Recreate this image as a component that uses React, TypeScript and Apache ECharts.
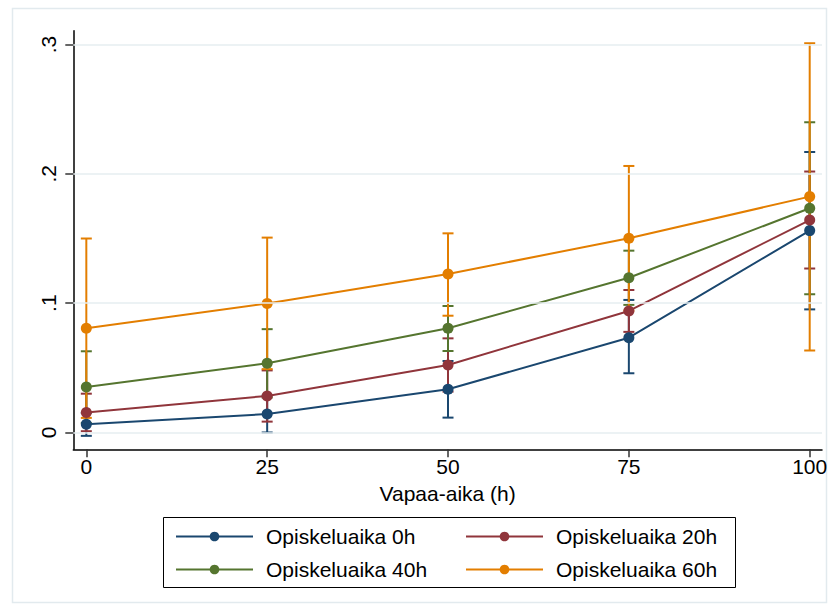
import React, { useEffect, useRef } from "react";
import * as echarts from "echarts";

// Predicted probabilities by free time (h), one group per study-time level
const freeTime = [0, 25, 50, 75, 100];

const seriesNames = [
  "Opiskeluaika 0h",
  "Opiskeluaika 20h",
  "Opiskeluaika 40h",
  "Opiskeluaika 60h",
];

const margin0h = [0.0063, 0.0143, 0.0334, 0.0733, 0.1561];
const lower0h = [-0.0026, 0.0, 0.0115, 0.0458, 0.0952];
const upper0h = [0.0152, 0.0286, 0.0553, 0.1025, 0.2169];

const margin20h = [0.0155, 0.0283, 0.0522, 0.094, 0.1643];
const lower20h = [0.001, 0.0084, 0.0316, 0.0778, 0.1268];
const upper20h = [0.03, 0.048, 0.0728, 0.1102, 0.2018];

const margin40h = [0.0351, 0.0535, 0.0806, 0.1197, 0.1734];
const lower40h = [0.0074, 0.027, 0.063, 0.0987, 0.1069];
const upper40h = [0.0628, 0.0799, 0.0978, 0.1406, 0.2399];

const margin60h = [0.0806, 0.0997, 0.1226, 0.1502, 0.1824];
const lower60h = [0.0113, 0.049, 0.0903, 0.0942, 0.0634];
const upper60h = [0.15, 0.1507, 0.154, 0.2061, 0.301];

const yTicks = [0, 0.1, 0.2, 0.3];
const xTicks = [0, 25, 50, 75, 100];

const colors = ["#1a476f", "#90353b", "#55752f", "#e37e00"];

const FONT = "'Liberation Sans', Arial, Helvetica, sans-serif";

export default function App() {
  const ref = useRef<HTMLDivElement>(null);

  useEffect(() => {
    if (!ref.current) return;
    const chart = echarts.init(ref.current, null, { renderer: "svg" });

    const margins = [margin0h, margin20h, margin40h, margin60h];
    const lowers = [lower0h, lower20h, lower40h, lower60h];
    const uppers = [upper0h, upper20h, upper40h, upper60h];

    // Confidence-interval caps, drawn below all lines
    const ciSeries = seriesNames.map((name, i) => ({
      type: "custom",
      name: name + " CI",
      z: 2,
      silent: true,
      data: freeTime.map((x, k) => [x, lowers[i][k], uppers[i][k]]),
      renderItem: (_params: any, api: any) => {
        const lo = api.coord([api.value(0), api.value(1)]);
        const hi = api.coord([api.value(0), api.value(2)]);
        const half = 5.5;
        const style = { stroke: colors[i], lineWidth: 2 };
        return {
          type: "group",
          children: [
            { type: "line", shape: { x1: lo[0], y1: lo[1], x2: hi[0], y2: hi[1] }, style },
            { type: "line", shape: { x1: lo[0] - half, y1: lo[1], x2: lo[0] + half, y2: lo[1] }, style },
            { type: "line", shape: { x1: hi[0] - half, y1: hi[1], x2: hi[0] + half, y2: hi[1] }, style },
          ],
        };
      },
    }));

    const lineSeries = seriesNames.map((name, i) => ({
      type: "line",
      name,
      z: 3,
      data: freeTime.map((x, k) => [x, margins[i][k]]),
      symbol: "circle",
      symbolSize: 11,
      itemStyle: { color: colors[i] },
      lineStyle: { color: colors[i], width: 2 },
    }));

    // Horizontal grid lines at the y ticks
    const gridSeries = {
      type: "line",
      name: "grid",
      z: 1,
      data: [],
      silent: true,
      markLine: {
        silent: true,
        symbol: ["none", "none"],
        label: { show: false },
        lineStyle: { color: "#e6eef1", width: 1.5, type: "solid" },
        data: yTicks.map((v) => ({ yAxis: v })),
      },
    };

    const legendPos = [
      { left: 175, top: 537 },
      { left: 465, top: 537 },
      { left: 175, top: 570 },
      { left: 465, top: 570 },
    ];

    chart.setOption({
      animation: false,
      backgroundColor: "#ffffff",
      textStyle: { fontFamily: FONT },
      grid: { left: 73.3, right: 12, top: 30.7, bottom: 160.7, containLabel: false },
      xAxis: {
        type: "value",
        min: -1.8,
        max: 101.7,
        name: "Vapaa-aika (h)",
        nameLocation: "middle",
        nameGap: 34,
        nameTextStyle: { fontSize: 21, color: "#000", fontFamily: FONT },
        axisLine: { show: true, onZero: false, lineStyle: { color: "#000", width: 1.5 } },
        axisTick: { show: true, length: 8, customValues: xTicks, lineStyle: { color: "#333", width: 1.5 } },
        axisLabel: { fontSize: 21, color: "#000", margin: 7, customValues: xTicks, fontFamily: FONT },
        splitLine: { show: false },
      },
      yAxis: {
        type: "value",
        min: -0.013,
        max: 0.3107,
        axisLine: { show: true, onZero: false, lineStyle: { color: "#000", width: 1.5 } },
        axisTick: { show: true, length: 8, customValues: yTicks, lineStyle: { color: "#333", width: 1.5 } },
        axisLabel: {
          fontSize: 21,
          color: "#000",
          rotate: 90,
          margin: 14,
          fontFamily: FONT,
          customValues: yTicks,
          formatter: (v: number) => (v === 0 ? "0" : "." + Math.round(v * 10)),
        },
        splitLine: { show: false },
      },
      legend: seriesNames.map((name, i) => ({
        data: [name],
        left: legendPos[i].left,
        top: legendPos[i].top - 11,
        padding: 0,
        itemWidth: 77,
        itemHeight: 12,
        selectedMode: false,
        textStyle: { fontSize: 21, color: "#000", fontFamily: FONT, padding: [0, 0, 0, 8] },
      })),
      graphic: [
        {
          type: "rect",
          silent: true,
          z: -10,
          shape: { x: 12.5, y: 8.5, width: 814, height: 594 },
          style: { fill: "none", stroke: "#e2eaee", lineWidth: 1.5 },
        },
        {
          type: "rect",
          silent: true,
          shape: { x: 163.5, y: 517.5, width: 572, height: 70 },
          style: { fill: "none", stroke: "#000", lineWidth: 1 },
        },
      ],
      series: [gridSeries, ...ciSeries, ...lineSeries],
    });

    return () => chart.dispose();
  }, []);

  return (
    <div
      ref={ref}
      style={{ position: "absolute", left: 0, top: 0, width: 834, height: 610 }}
    />
  );
}
